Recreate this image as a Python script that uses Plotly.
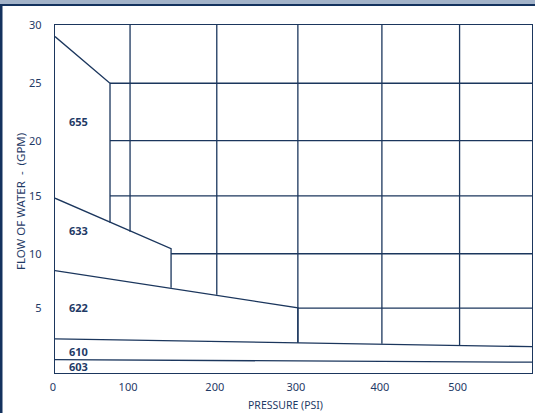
import plotly.graph_objects as go

# ---- data (axis units) ----
X_TICK_POS = [0, 94.4, 203.5, 305.5, 411.2, 508.9, 600]
X_TICK_TEXT = ["0", "100", "200", "300", "400", "500", "600"]
Y_TICK_POS = [5.56, 10.28, 15.27, 20.03, 24.98, 30]
Y_TICK_TEXT = ["5", "10", "15", "20", "25", "30"]

# model boundary envelopes
MODELS = ["655", "633", "622", "610", "603"]
BOUND_X = [
    [0, 69.2, 69.2],
    [0, 146.0, 146.0],
    [0, 305.5, 305.5],
    [0, 600],
    [0, 600],
]
BOUND_Y = [
    [29.0, 24.98, 12.95],
    [15.07, 10.71, 7.35],
    [8.82, 5.62, 2.61],
    [2.95, 2.27],
    [1.15, 0.93],
]
LABEL_X = [15, 15, 15, 15, 15]
LABEL_Y = [21.7, 12.3, 5.65, 1.86, 0.52]

# vertical grid columns (x, lower end) ; upper end is the top of the chart
GRID_V_X = [94.4, 203.5, 305.5, 411.2, 508.9]
GRID_V_BOTTOM = [12.17, 6.74, 2.61, 2.52, 2.38]
# horizontal grid rows (y, left start) ; right end is 600
GRID_H_Y = [24.98, 20.03, 15.27, 10.28, 5.6]
GRID_H_START = [69.2, 69.2, 69.2, 146.0, 305.5]

X_MAX = 600
Y_MAX = 30

NAVY = "#1b365d"
TEXT = "#1f3a66"
FONT = "Noto Sans"

fig = go.Figure()

# grid segments
gx, gy = [], []
for x, b in zip(GRID_V_X, GRID_V_BOTTOM):
    gx += [x, x, None]
    gy += [Y_MAX, b, None]
for y, s in zip(GRID_H_Y, GRID_H_START):
    gx += [s, X_MAX, None]
    gy += [y, y, None]
fig.add_trace(go.Scatter(x=gx, y=gy, mode="lines",
                         line=dict(color=NAVY, width=1.3),
                         hoverinfo="skip", showlegend=False))

# model boundaries
for name, xs, ys in zip(MODELS, BOUND_X, BOUND_Y):
    fig.add_trace(go.Scatter(x=xs, y=ys, mode="lines", name=name,
                             line=dict(color=NAVY, width=1.3),
                             hoverinfo="skip", showlegend=False))

# model labels
for name, lx, ly in zip(MODELS, LABEL_X, LABEL_Y):
    fig.add_annotation(x=lx, y=ly, text="<b>" + name + "</b>", showarrow=False,
                       xanchor="left", yanchor="middle",
                       font=dict(family=FONT, size=11, color=TEXT))

# axis titles
fig.add_annotation(xref="paper", yref="paper", x=-0.0734, y=0.494,
                   xanchor="center", yanchor="middle",
                   text="FLOW OF WATER\u00a0\u00a0-\u00a0\u00a0(GPM)",
                   textangle=-90, showarrow=False,
                   font=dict(family=FONT, size=11.5, color=TEXT))
fig.add_annotation(xref="paper", yref="paper", x=0.484, y=-0.092,
                   xanchor="center", yanchor="middle",
                   text="PRESSURE (PSI)", showarrow=False,
                   font=dict(family=FONT, size=10.5, color=TEXT))

# decorative frame: top bar and left bar (pixel-sized, anchored to plot corners)
fig.add_shape(type="rect", xref="paper", yref="paper",
              xsizemode="pixel", ysizemode="pixel", xanchor=0, yanchor=1,
              x0=-60, x1=540, y0=21, y1=30,
              fillcolor="#a3b3c9", line=dict(width=0), layer="above")
fig.add_shape(type="rect", xref="paper", yref="paper",
              xsizemode="pixel", ysizemode="pixel", xanchor=0, yanchor=1,
              x0=-60, x1=540, y0=19, y1=21,
              fillcolor="#14325e", line=dict(width=0), layer="above")
fig.add_shape(type="rect", xref="paper", yref="paper",
              xsizemode="pixel", ysizemode="pixel", xanchor=0, yanchor=1,
              x0=-60, x1=-52.5, y0=-400, y1=21,
              fillcolor="#14325e", line=dict(width=0), layer="above")

fig.update_xaxes(range=[0, X_MAX], tickvals=X_TICK_POS, ticktext=X_TICK_TEXT,
                 showgrid=False, zeroline=False, showline=True, mirror=True,
                 linecolor=NAVY, linewidth=1.3, ticks="", ticklabelstandoff=4,
                 ticklabelshift=-2, automargin=False,
                 tickfont=dict(family=FONT, size=11, color=TEXT))
fig.update_yaxes(range=[0, Y_MAX], tickvals=Y_TICK_POS, ticktext=Y_TICK_TEXT,
                 showgrid=False, zeroline=False, showline=True, mirror=True,
                 linecolor=NAVY, linewidth=1.3, ticks="", ticklabelstandoff=10,
                 automargin=False,
                 tickfont=dict(family=FONT, size=11, color=TEXT))

fig.update_layout(width=535, height=413,
                  margin=dict(l=55, r=3, t=25, b=40),
                  paper_bgcolor="white", plot_bgcolor="white",
                  showlegend=False, hovermode=False)

fig.write_html("out.html", config={"displayModeBar": False},
               post_script="document.body.style.margin='0px';"
                           "document.body.style.overflow='hidden';")
